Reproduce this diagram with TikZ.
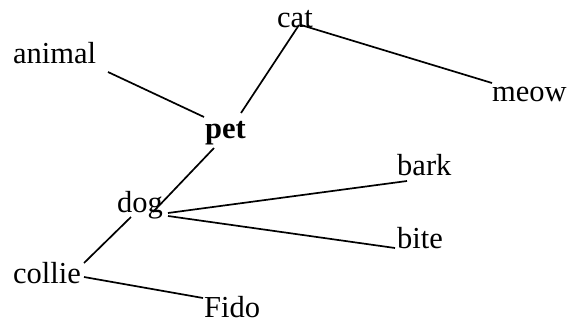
\documentclass[tikz,border=0pt]{standalone}
\usepackage{fontspec}
\setmainfont{Liberation Serif}
\begin{document}
\begin{tikzpicture}[x=1pt,y=-1pt,
  lbl/.style={anchor=base west,inner sep=0pt,font=\fontsize{30.5}{36}\selectfont},
  link/.style={line width=1.7pt}]
\useasboundingbox (0,0) rectangle (569,324);
\node[lbl] (animal) at (13,63) {animal};
\node[lbl] (cat) at (277,27) {cat};
\node[lbl] (meow) at (492,101) {meow};
\node[lbl,font=\fontsize{30.5}{36}\selectfont\bfseries] (pet) at (205,138) {pet};
\node[lbl] (dog) at (117,212) {dog};
\node[lbl] (bark) at (397,175) {bark};
\node[lbl] (bite) at (397,248) {bite};
\node[lbl] (collie) at (13,283) {collie};
\node[lbl] (fido) at (204,317.5) {Fido};
% connector ends
\coordinate (animal-o) at (108,72);
\coordinate (pet-a) at (204,117);
\coordinate (pet-c) at (241,113);
\coordinate (cat-p) at (299,25);
\coordinate (cat-m) at (301,25);
\coordinate (meow-c) at (492,83);
\coordinate (pet-d) at (214,148);
\coordinate (dog-p) at (153,212);
\coordinate (dog-c) at (131,217);
\coordinate (collie-d) at (84,263);
\coordinate (dog-b) at (168,213);
\coordinate (bark-d) at (407,181);
\coordinate (dog-i) at (168,216);
\coordinate (bite-d) at (395,248);
\coordinate (collie-f) at (84,277);
\coordinate (fido-c) at (203,298);
\draw[link] (animal-o) -- (pet-a);
\draw[link] (pet-c) -- (cat-p);
\draw[link] (cat-m) -- (meow-c);
\draw[link] (pet-d) -- (dog-p);
\draw[link] (dog-c) -- (collie-d);
\draw[link] (dog-b) -- (bark-d);
\draw[link] (dog-i) -- (bite-d);
\draw[link] (collie-f) -- (fido-c);
\end{tikzpicture}
\end{document}
